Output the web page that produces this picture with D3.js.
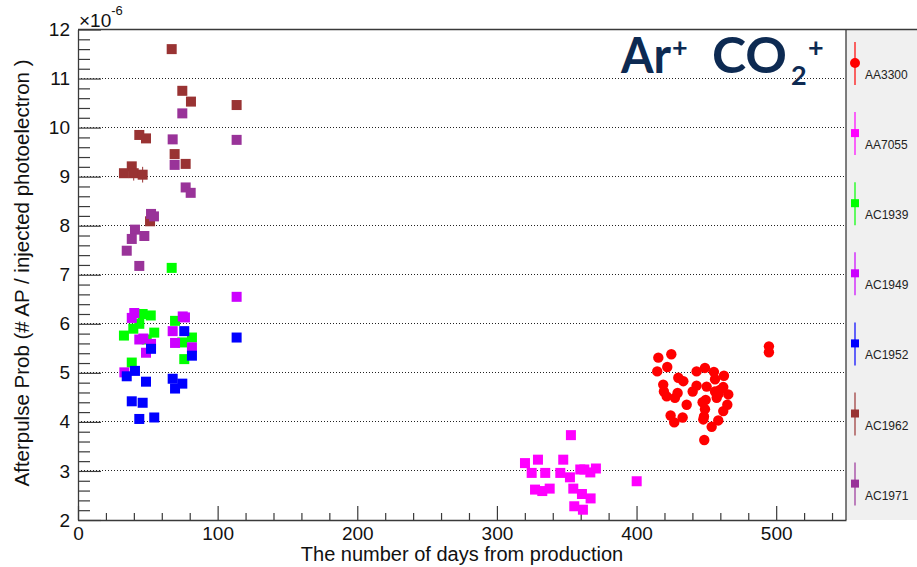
<!DOCTYPE html>
<html><head><meta charset="utf-8">
<script src="https://cdn.jsdelivr.net/npm/d3@7"></script>
<style>body{margin:0;background:#fff} svg{display:block}</style>
</head><body><svg id="c" width="917" height="567"></svg>
<script>
// ---------------- data ----------------
const seriesNames  = ["AA3300","AA7055","AC1939","AC1949","AC1952","AC1962","AC1971"];
const seriesColors = ["#ff0000","#ff00ff","#00ff00","#cc00ff","#0000ff","#993333","#993399"];
const seriesShapes = ["circle","square","square","square","square","square","square"];

const aa3300Days = [494.8,494.8,415.6,424.9,422.0,414.8,443.0,449.0,455.4,462.6,429.9,433.5,456.2,419.1,443.0,462.1,419.6,440.2,456.2,429.4,458.5,465.7,421.6,427.5,457.4,449.5,447.3,435.9,465.0,449.0,462.1,424.4,433.0,448.3,427.0,447.8,458.5,453.8,448.5,450.2,459.7];
const aa3300Vals = [5.54,5.42,5.31,5.38,5.12,5.03,5.03,5.10,5.02,4.94,4.90,4.83,4.87,4.76,4.74,4.71,4.62,4.62,4.62,4.59,4.56,4.56,4.52,4.49,4.49,4.45,4.40,4.35,4.35,4.26,4.22,4.13,4.09,4.11,3.99,4.05,4.03,3.90,3.63,4.72,4.65];

const aa7055Days = [353.0,320.1,329.4,347.5,324.9,334.6,345.4,352.3,359.7,362.6,366.9,370.9,327.3,332.5,337.8,354.7,360.9,367.1,355.4,361.6,400.1];
const aa7055Vals = [3.73,3.16,3.23,3.23,2.96,2.96,2.96,2.87,3.03,3.03,2.97,3.05,2.62,2.59,2.64,2.64,2.53,2.44,2.28,2.21,2.79];

const ac1939Days = [67.1,46.3,52.1,69.5,43.9,39.6,54.6,32.9,81.6,74.7,49.2,38.5,76.1];
const ac1939Vals = [7.14,6.20,6.17,6.06,6.00,5.90,5.82,5.76,5.72,5.62,5.68,5.21,5.28];

const ac1949Days = [113.6,40.3,38.5,75.0,76.6,67.8,43.9,46.8,52.3,69.5,81.6,48.7,33.2];
const ac1949Vals = [6.55,6.22,6.12,6.15,6.13,5.85,5.68,5.70,5.59,5.61,5.52,5.41,5.01];

const ac1952Days = [76.1,113.6,52.3,81.6,40.8,34.9,48.7,67.8,74.7,69.5,38.5,46.3,43.9,54.6];
const ac1952Vals = [5.85,5.72,5.49,5.35,5.04,4.93,4.82,4.88,4.78,4.68,4.42,4.39,4.06,4.09];

const ac1962Days = [67.1,74.7,80.9,113.6,43.9,48.7,69.2,77.1,38.5,32.9,39.9,46.3,51.6];
const ac1962Vals = [11.60,10.75,10.53,10.46,9.85,9.78,9.46,9.26,9.21,9.07,9.07,9.04,8.09];
const ac1962Errs = [0,0,0,0,0,0,0,0,0,0,0.15,0.16,0];

const ac1971Days = [74.7,113.6,67.8,69.2,77.1,80.7,52.3,54.4,40.8,38.5,47.5,34.9,43.9];
const ac1971Vals = [10.29,9.75,9.76,9.24,8.78,8.67,8.24,8.19,7.92,7.73,7.79,7.49,7.18];

const yTickValues = [2,3,4,5,6,7,8,9,10,11,12];
const xTickValues = [0,100,200,300,400,500];
const xTitle = "The number of days from production";
const yTitle = "Afterpulse Prob (# AP / injected photoelectron )";

const seriesDays = [aa3300Days,aa7055Days,ac1939Days,ac1949Days,ac1952Days,ac1962Days,ac1971Days];
const seriesVals = [aa3300Vals,aa7055Vals,ac1939Vals,ac1949Vals,ac1952Vals,ac1962Vals,ac1971Vals];
const seriesErrs = [null,null,null,null,null,ac1962Errs,null];

// ---------------- layout ----------------
const L = 78, R = 846, T = 29.5, B = 520, W = 917;
const svg = d3.select("#c");
const x = d3.scaleLinear().domain([0,550]).range([L,R]);
const y = d3.scaleLinear().domain([2,12]).range([B,T]);
const font = "'Liberation Sans', Arial, Helvetica, sans-serif";
const axisCol = "#3a3a3a";

// legend panel
svg.append("rect").attr("x",R).attr("y",T).attr("width",W-R).attr("height",B-T).attr("fill","#f0f0f0");

// grid lines
svg.append("g").selectAll("line").data(yTickValues.slice(1,-1)).join("line")
  .attr("x1",L).attr("x2",R).attr("y1",d=>y(d)).attr("y2",d=>y(d))
  .attr("stroke","#222").attr("stroke-width",1).attr("stroke-dasharray","1,2").attr("shape-rendering","crispEdges");

// minor ticks
const yMinor = d3.range(2,12.001,0.2).filter(v=>Math.abs(v-Math.round(v))>1e-6);
const xMinor = d3.range(0,550.001,20).filter(v=>v%100!==0);

const yMin = svg.append("g").attr("transform",`translate(${L},0)`)
  .call(d3.axisLeft(y).tickValues(yMinor).tickSize(-12).tickFormat(""));
yMin.select(".domain").remove();
const xMin = svg.append("g").attr("transform",`translate(0,${B})`)
  .call(d3.axisBottom(x).tickValues(xMinor).tickSize(-7).tickFormat(""));
xMin.select(".domain").remove();

// major axes
const yAx = svg.append("g").attr("transform",`translate(${L},0)`)
  .call(d3.axisLeft(y).tickValues(yTickValues).tickSize(-23).tickSizeOuter(0).tickPadding(8).tickFormat(d3.format("d")));
const xAx = svg.append("g").attr("transform",`translate(0,${B})`)
  .call(d3.axisBottom(x).tickValues(xTickValues).tickSize(-14).tickSizeOuter(0).tickPadding(7).tickFormat(d3.format("d")));
[yAx,xAx,yMin,xMin].forEach(g=>{
  g.selectAll("line").attr("stroke",axisCol).attr("stroke-width",1.2);
  g.selectAll("text").attr("font-family",font).attr("font-size",19).attr("fill","#111");
  g.selectAll(".domain").attr("stroke",axisCol).attr("stroke-width",1.3);
});

// frame (top + right)
svg.append("line").attr("x1",L).attr("x2",W).attr("y1",T).attr("y2",T).attr("stroke",axisCol).attr("stroke-width",1.3);
svg.append("line").attr("x1",R).attr("x2",R).attr("y1",T).attr("y2",B).attr("stroke",axisCol).attr("stroke-width",1.3);

// exponent
const ex = svg.append("text").attr("x",79).attr("y",27).attr("font-family",font).attr("font-size",19).attr("fill","#111");
ex.append("tspan").text("\u00d710");
ex.append("tspan").attr("font-size",13).attr("dy",-12).text("-6");

// axis titles
svg.append("text").attr("x",462).attr("y",561).attr("text-anchor","middle")
  .attr("font-family",font).attr("font-size",20).attr("fill","#111").text(xTitle);
svg.append("text").attr("transform","translate(29,273) rotate(-90)").attr("text-anchor","middle")
  .attr("font-family",font).attr("font-size",20.5).attr("fill","#111").text(yTitle);

// markers
const sq = 10;
seriesNames.forEach((name,i)=>{
  const g = svg.append("g");
  const pts = seriesDays[i].map((d,j)=>({d, v:seriesVals[i][j], e: seriesErrs[i] ? seriesErrs[i][j] : 0}));
  g.selectAll("line").data(pts.filter(p=>p.e>0)).join("line")
    .attr("x1",p=>x(p.d)).attr("x2",p=>x(p.d)).attr("y1",p=>y(p.v-p.e)).attr("y2",p=>y(p.v+p.e))
    .attr("stroke",seriesColors[i]).attr("stroke-width",1);
  if (seriesShapes[i]==="circle") {
    g.selectAll("circle").data(pts).join("circle")
      .attr("cx",p=>x(p.d)).attr("cy",p=>y(p.v)).attr("r",5.2).attr("fill",seriesColors[i]);
  } else {
    g.selectAll("rect").data(pts).join("rect")
      .attr("x",p=>x(p.d)-sq/2).attr("y",p=>y(p.v)-sq/2).attr("width",sq).attr("height",sq).attr("fill",seriesColors[i]);
  }
});

// legend
const lg = svg.append("g");
seriesNames.forEach((name,i)=>{
  const cy = 63 + i*70.1, cx = 855;
  lg.append("line").attr("x1",cx).attr("x2",cx).attr("y1",cy-21).attr("y2",cy+22)
    .attr("stroke",seriesColors[i]).attr("stroke-width",1.2);
  if (seriesShapes[i]==="circle")
    lg.append("circle").attr("cx",cx).attr("cy",cy).attr("r",5).attr("fill",seriesColors[i]);
  else
    lg.append("rect").attr("x",cx-4).attr("y",cy-4).attr("width",8).attr("height",8).attr("fill",seriesColors[i]);
  lg.append("text").attr("x",865).attr("y",cy+16).attr("font-family",font).attr("font-size",12).attr("fill","#222").text(name);
});

// title
const navy = "#0d2a52";
const tf = "Lato, 'Open Sans', sans-serif";
const t = svg.append("g").attr("font-family",tf).attr("font-weight","bold").attr("fill",navy);
t.append("text").attr("x",621).attr("y",73).attr("font-size",49).attr("textLength",50).attr("lengthAdjust","spacingAndGlyphs").text("Ar");
t.append("text").attr("x",672).attr("y",57).attr("font-size",27).text("+");
t.append("text").attr("x",712).attr("y",73).attr("font-size",49).attr("textLength",75).attr("lengthAdjust","spacingAndGlyphs").text("CO");
t.append("text").attr("x",791).attr("y",85).attr("font-size",27).text("2");
t.append("text").attr("x",808).attr("y",57).attr("font-size",27).text("+");
</script>
</body></html>
